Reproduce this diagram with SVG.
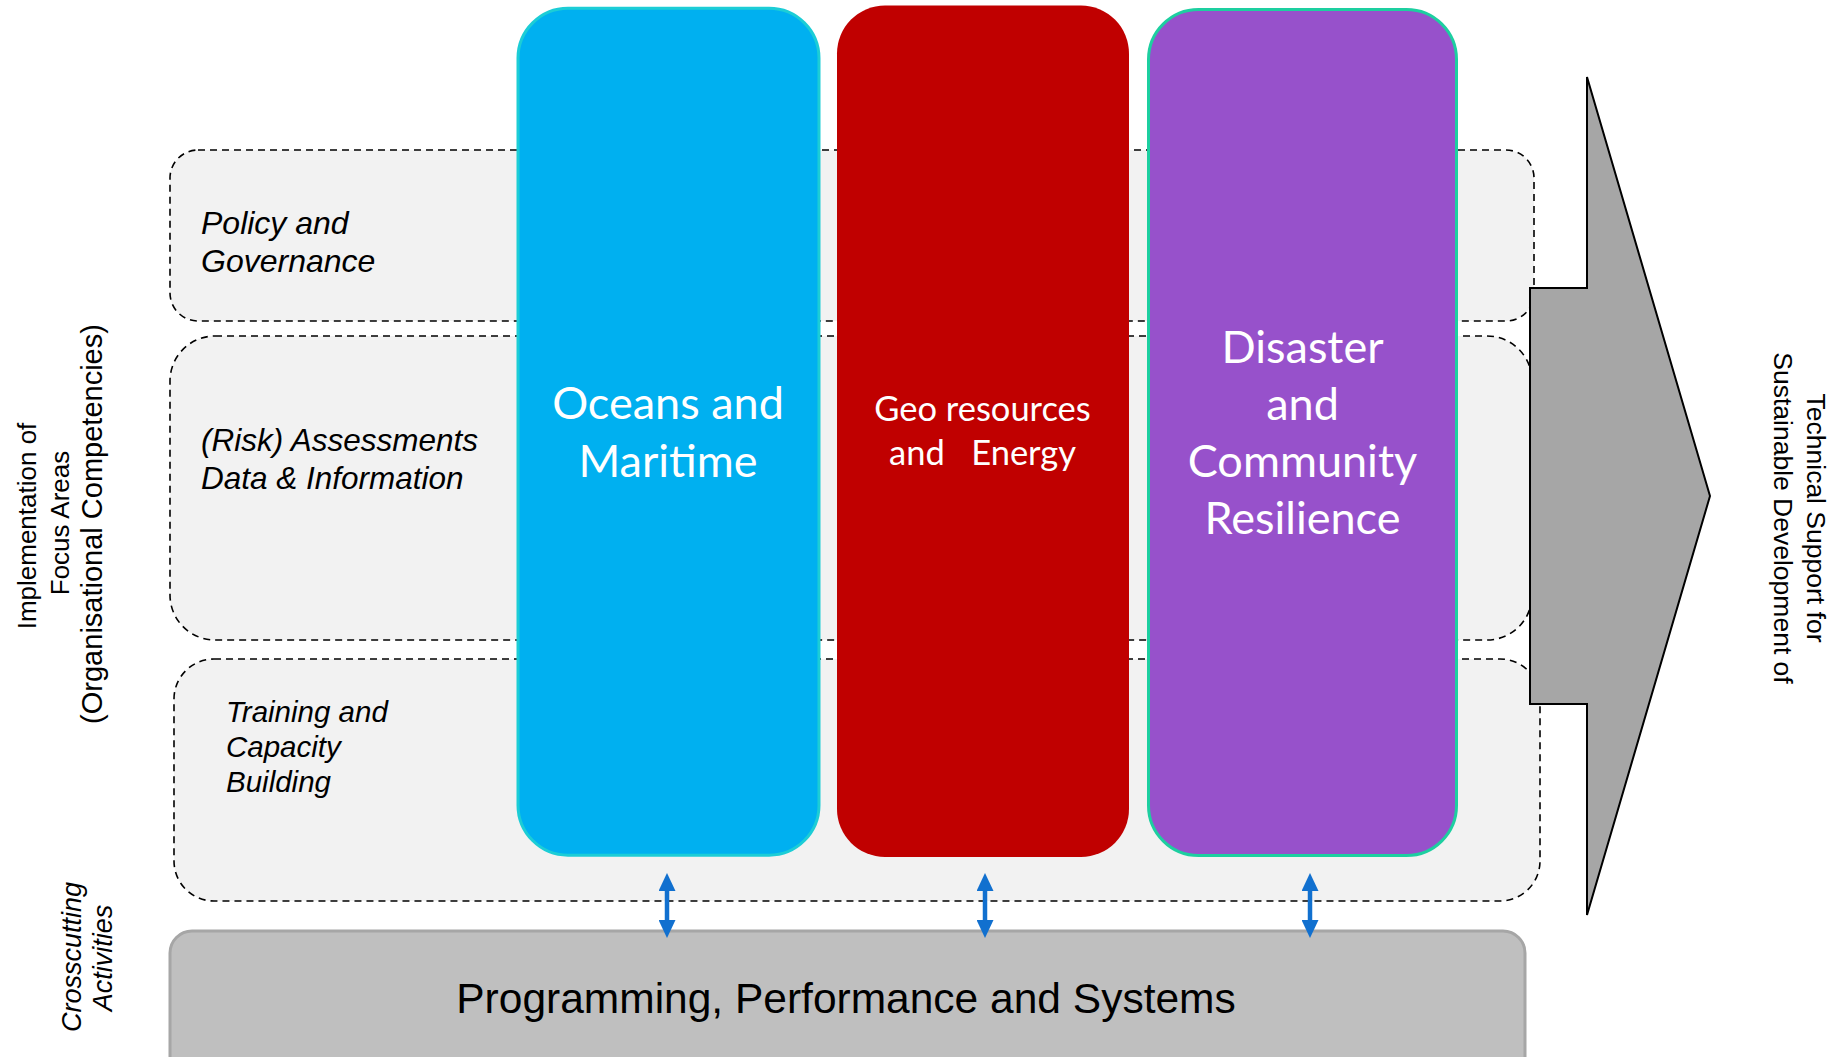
<svg xmlns="http://www.w3.org/2000/svg" width="1829" height="1057" viewBox="0 0 1829 1057">
<style>
.band{fill:#F2F2F2;stroke:#000;stroke-width:1.6;stroke-dasharray:7 5}
.lbl{font-family:"Liberation Sans",Arial,sans-serif;font-style:italic;fill:#000}
.side{font-family:"Liberation Sans",Arial,sans-serif;fill:#000;font-size:26px;text-anchor:middle}
.col{font-family:Lato,"Open Sans",sans-serif;fill:#fff;text-anchor:middle}
.conn{stroke:#1170CF;stroke-width:4.5;fill:none;marker-start:url(#ah);marker-end:url(#ah)}
</style>
<defs>
<marker id="ah" markerUnits="userSpaceOnUse" markerWidth="18" markerHeight="17" refX="0" refY="8.5" orient="auto-start-reverse">
<path d="M0,0 L18,8.5 L0,17 z" fill="#1170CF"/>
</marker>
</defs>
<rect width="1829" height="1057" fill="#fff"/>

<g id="side-labels">
<text class="side" transform="translate(36,526) rotate(-90)">Implementation of</text>
<text class="side" transform="translate(69,523) rotate(-90)">Focus Areas</text>
<text class="side" transform="translate(102,524) rotate(-90)" style="font-size:29px">(Organisational Competencies)</text>
<text class="side" transform="translate(81,957) rotate(-90)" style="font-style:italic;font-size:27px">Crosscutting</text>
<text class="side" transform="translate(112,958) rotate(-90)" style="font-style:italic;font-size:27px">Activities</text>
<text class="side" transform="translate(1807,518) rotate(90)" style="font-size:26.5px">Technical Support for</text>
<text class="side" transform="translate(1774,518) rotate(90)" style="font-size:26.5px">Sustainable Development of</text>
</g>

<g id="policy">
<rect class="band" x="170" y="150" width="1364" height="171" rx="28"/>
<text class="lbl" font-size="32" x="201" y="234">Policy and</text>
<text class="lbl" font-size="32" x="201" y="272">Governance</text>
</g>
<g id="risk">
<rect class="band" x="170" y="336" width="1362" height="304" rx="45"/>
<text class="lbl" font-size="31.5" x="201" y="451">(Risk) Assessments</text>
<text class="lbl" font-size="31.5" x="201" y="489">Data &amp; Information</text>
</g>
<g id="training">
<rect class="band" x="174" y="659" width="1366" height="242" rx="40"/>
<text class="lbl" font-size="29.5" x="226" y="722">Training and</text>
<text class="lbl" font-size="29.5" x="226" y="757">Capacity</text>
<text class="lbl" font-size="29.5" x="226" y="792">Building</text>
</g>

<g id="oceans">
<rect x="518" y="8.2" width="301" height="847" rx="50" fill="#00B0F0" stroke="#1CCDD6" stroke-width="3"/>
<text class="col" font-size="45" x="668" y="419">Oceans and</text>
<text class="col" font-size="45" x="668" y="477">Maritime</text>
</g>
<g id="geo">
<rect x="837" y="5.5" width="292" height="851.5" rx="48" fill="#C00000"/>
<text class="col" font-size="34.5" x="982.5" y="421">Geo resources</text>
<text class="col" font-size="34.5" x="982.5" y="465" xml:space="preserve">and   Energy</text>
</g>
<g id="disaster">
<rect x="1148.5" y="9.5" width="308" height="846" rx="50" fill="#9751CB" stroke="#1DCFA0" stroke-width="3"/>
<text class="col" font-size="45" x="1302.5" y="363">Disaster</text>
<text class="col" font-size="45" x="1302.5" y="420">and</text>
<text class="col" font-size="45" x="1302.5" y="477">Community</text>
<text class="col" font-size="45" x="1302.5" y="534">Resilience</text>
</g>

<g id="outcome-arrow">
<polygon points="1530,288 1587,288 1587,77 1710,496 1587,915 1587,704 1530,704" fill="#A6A6A6" stroke="#000" stroke-width="2" stroke-linejoin="miter"/>
</g>

<g id="programming">
<rect x="170" y="931" width="1355" height="160" rx="22" fill="#BFBFBF" stroke="#A6A6A6" stroke-width="3"/>
<text x="846" y="1013" font-family="'Liberation Sans',Arial,sans-serif" font-size="42.5" text-anchor="middle" fill="#000">Programming, Performance and Systems</text>
</g>

<g id="connectors">
<path class="conn" d="M667,891 V920"/>
<path class="conn" d="M985,891 V920"/>
<path class="conn" d="M1310,891 V920"/>
</g>
</svg>
